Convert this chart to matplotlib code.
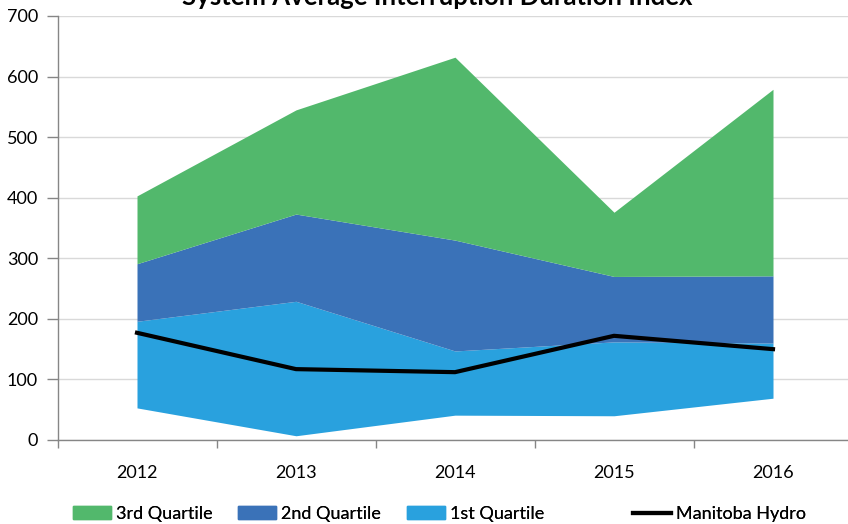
import matplotlib
matplotlib.use("Agg")
import matplotlib.pyplot as plt
from matplotlib.patches import Patch
from matplotlib.lines import Line2D
import numpy as np

years = ["2012", "2013", "2014", "2015", "2016"]
# Stacked boundaries (cumulative levels)
base_level = [53, 7, 41, 40, 69]          # invisible bottom series
q1_level = [196, 229, 147, 162, 160]      # top of 1st Quartile band
q2_level = [291, 373, 330, 270, 271]      # top of 2nd Quartile band
q3_level = [403, 545, 632, 376, 579]      # top of 3rd Quartile band
manitoba_hydro = [177, 117, 112, 172, 150]

c_q3 = "#52B86C"
c_q2 = "#3A72B8"
c_q1 = "#29A1DE"

plt.rcParams["font.family"] = ["Lato", "DejaVu Sans"]

fig = plt.figure(figsize=(8.48, 5.24), dpi=100)
ax = fig.add_axes([57.5 / 848, 1 - 440 / 524, 795 / 848, 424 / 524])

x = np.arange(len(years))
ax.fill_between(x, base_level, q1_level, color=c_q1, linewidth=0, zorder=2)
ax.fill_between(x, q1_level, q2_level, color=c_q2, linewidth=0, zorder=2)
ax.fill_between(x, q2_level, q3_level, color=c_q3, linewidth=0, zorder=2)
ax.plot(x, manitoba_hydro, color="black", linewidth=3, zorder=3)

ax.set_xlim(-0.5, len(years) - 0.5)
ax.set_ylim(0, 700)
ax.set_yticks(range(0, 701, 100))
ax.yaxis.grid(True, color="#D9D9D9", linewidth=1, zorder=0)
ax.set_axisbelow(True)

ax.set_xticks(np.arange(-0.5, len(years), 1.0))
ax.set_xticklabels([])
ax.set_xticks(x, minor=True)
ax.set_xticklabels(years, minor=True)
ax.tick_params(axis="x", which="major", length=6, color="#868686", width=1)
ax.tick_params(axis="x", which="minor", length=0, pad=18, labelsize=13)
ax.tick_params(axis="y", length=8, color="#868686", width=1, labelsize=13, pad=6)

for s in ["top", "right"]:
    ax.spines[s].set_visible(False)
for s in ["left", "bottom"]:
    ax.spines[s].set_color("#868686")
    ax.spines[s].set_linewidth(1)

fig.text(437 / 848, 1 - 5 / 524, "System Average Interruption Duration Index",
         ha="center", va="baseline", fontsize=18.5, fontweight="bold")

entries = [
    (Patch(color=c_q3, label="3rd Quartile"), 73),
    (Patch(color=c_q2, label="2nd Quartile"), 238),
    (Patch(color=c_q1, label="1st Quartile"), 407),
    (Line2D([0], [0], color="black", linewidth=3, label="Manitoba Hydro"), 633),
]
for handle, xpx in entries:
    leg = fig.legend(handles=[handle], loc="center left",
                     bbox_to_anchor=(xpx / 848, 1 - 514 / 524),
                     frameon=False, fontsize=13, handlelength=2.1, handleheight=0.7,
                     handletextpad=0.3, borderaxespad=0, borderpad=0)
    fig.add_artist(leg)

fig.savefig("out.png", dpi=100)
